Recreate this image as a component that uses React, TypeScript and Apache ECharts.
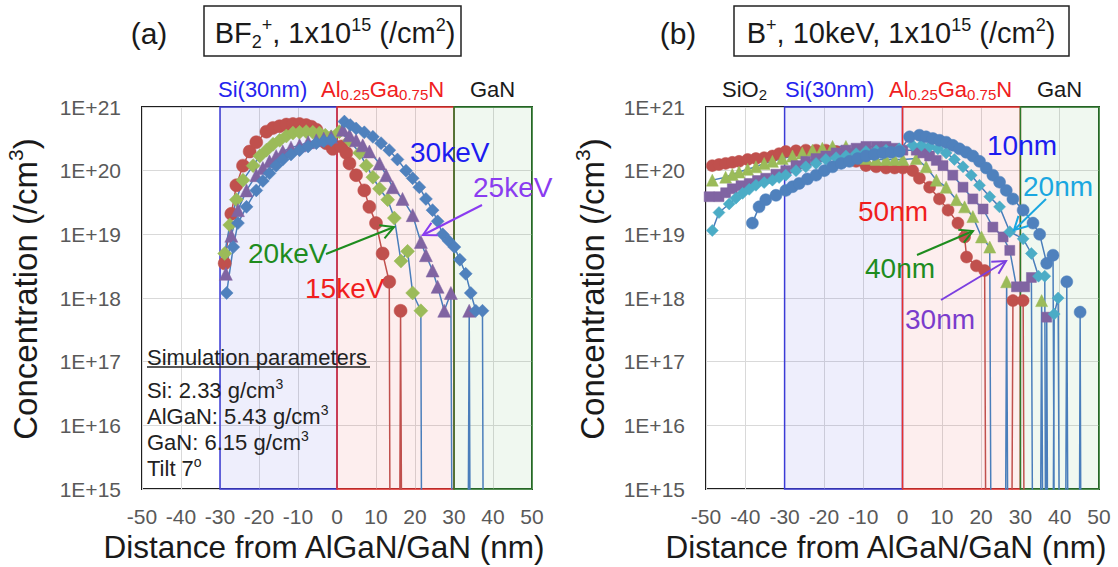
import React, { useEffect, useRef } from "react";
import * as echarts from "echarts";

type Pt = [number, number];

// A value far below the 1E+15 floor: the line drops straight to the bottom edge and is clipped there.
const OFF = 1e10;

const FONT = '"Liberation Sans", Arial, Helvetica, sans-serif';

// ---------- (a) BF2+ implantation, energy series ----------
const keV15: Pt[] = [
  [-28.8, 3.5e18], [-27.1, 2.1e19], [-25.8, 5.9e19], [-24.1, 1.2e20], [-22.4, 2.0e20],
  [-20.7, 2.8e20], [-18.1, 4.1e20], [-16.4, 4.7e20], [-14.7, 5.0e20], [-13.0, 5.3e20],
  [-11.3, 5.4e20], [-9.6, 5.4e20], [-7.9, 5.2e20], [-6.6, 4.9e20], [-5.3, 4.4e20],
  [-4.0, 3.4e20], [-2.8, 2.7e20], [-1.1, 2.2e20], [1.1, 2.4e20], [2.4, 1.9e20],
  [3.2, 1.3e20], [4.9, 8.5e19], [7.0, 4.9e19], [8.3, 2.7e19], [10.0, 1.5e19],
  [11.7, 5.0e18], [13.4, 1.8e18], [13.8, OFF], [15.8, OFF], [16.3, 6.3e17], [16.9, OFF],
];
const keV20: Pt[] = [
  [-28.8, 5.0e18], [-27.5, 1.4e19], [-25.8, 3.5e19], [-24.1, 7.1e19], [-21.5, 1.2e20],
  [-19.8, 1.7e20], [-18.1, 2.1e20], [-16.4, 2.6e20], [-14.7, 3.0e20], [-13.0, 3.5e20],
  [-11.3, 3.9e20], [-9.6, 4.0e20], [-7.9, 4.1e20], [-6.2, 4.0e20], [-4.5, 3.9e20],
  [-3.0, 3.6e20], [-1.5, 3.4e20], [0.6, 4.1e20], [3.2, 3.0e20], [5.8, 1.9e20],
  [7.5, 1.2e20], [9.2, 7.9e19], [10.9, 5.2e19], [13.0, 3.5e19], [14.7, 1.8e19],
  [16.4, 3.8e18], [18.1, 5.4e18], [19.4, 1.2e18], [21.5, 6.3e17], [21.9, OFF],
];
const keV25: Pt[] = [
  [-28.5, 2.4e18], [-27.1, 9.5e18], [-25.4, 2.4e19], [-23.2, 4.9e19], [-20.7, 8.5e19],
  [-19.0, 1.1e20], [-17.3, 1.4e20], [-15.6, 1.7e20], [-13.9, 2.0e20], [-11.8, 2.3e20],
  [-9.6, 2.5e20], [-7.4, 2.8e20], [-5.3, 3.0e20], [-3.4, 3.2e20], [-1.5, 3.4e20],
  [1.5, 4.4e20], [3.2, 3.6e20], [4.9, 3.0e20], [6.6, 2.5e20], [8.3, 2.0e20],
  [10.9, 1.3e20], [12.6, 8.5e19], [14.3, 5.5e19], [16.8, 3.6e19], [19.4, 2.0e19],
  [21.5, 7.6e18], [22.8, 4.7e18], [24.5, 2.7e18], [25.8, 1.5e18], [27.5, 6.3e17],
  [29.2, 1.2e18], [29.8, OFF], [33.3, OFF], [33.9, 6.3e17], [34.4, OFF],
];
const keV30: Pt[] = [
  [-28.3, 1.2e18], [-26.6, 6.3e18], [-25.4, 1.5e19], [-23.2, 2.7e19], [-20.7, 4.9e19],
  [-19.0, 6.9e19], [-17.3, 9.1e19], [-15.6, 1.2e20], [-13.9, 1.5e20], [-11.8, 1.8e20],
  [-9.6, 2.1e20], [-7.4, 2.4e20], [-5.3, 2.7e20], [-3.4, 2.9e20], [-1.5, 3.0e20],
  [1.9, 5.9e20], [3.4, 5.2e20], [4.9, 4.6e20], [7.0, 4.0e20], [9.2, 3.4e20],
  [11.3, 2.7e20], [13.4, 2.1e20], [15.5, 1.5e20], [17.7, 1.0e20], [19.4, 7.6e19],
  [21.1, 5.5e19], [22.8, 3.6e19], [24.5, 2.4e19], [25.8, 1.6e19], [27.1, 1.0e19],
  [28.6, 7.9e18], [30.1, 6.3e18], [31.5, 4.0e18], [33.0, 2.4e18], [34.3, 1.2e18],
  [35.6, 6.3e17], [37.3, 6.3e17], [37.7, OFF],
];

// ---------- (b) B+ 10 keV implantation, SiO2 thickness series ----------
const nm10: Pt[] = [
  [-38.2, 1.5e19], [-36.5, 2.7e19], [-34.8, 3.5e19], [-32.2, 4.1e19], [-29.7, 4.9e19],
  [-28.0, 5.6e19], [-26.3, 6.3e19], [-24.2, 7.4e19], [-22.0, 8.5e19], [-19.9, 1.0e20],
  [-17.8, 1.15e20], [-15.6, 1.3e20], [-13.5, 1.4e20], [-11.4, 1.55e20], [-9.3, 1.7e20],
  [-7.2, 1.8e20], [-5.0, 1.9e20], [-2.9, 1.95e20], [-0.8, 2.0e20], [1.8, 3.4e20],
  [4.3, 3.6e20], [6.0, 3.4e20], [7.7, 3.2e20], [9.4, 3.0e20], [11.1, 2.8e20],
  [12.8, 2.5e20], [14.5, 2.2e20], [16.2, 1.95e20], [17.9, 1.7e20], [19.6, 1.4e20],
  [21.3, 1.1e20], [23.0, 8.5e19], [24.7, 6.6e19], [26.4, 4.9e19], [28.1, 3.6e19],
  [30.7, 2.4e19], [33.2, 1.5e19], [34.9, 1.0e19], [36.7, 3.5e18], [38.3, 4.7e18],
  [38.9, OFF], [41.2, OFF], [41.8, 1.8e18], [42.4, OFF], [44.8, OFF], [45.2, 6.0e17], [45.6, OFF],
];
const nm20: Pt[] = [
  [-48.4, 1.15e19], [-46.7, 2.2e19], [-44.1, 3.0e19], [-42.4, 3.7e19], [-40.7, 4.4e19],
  [-39.0, 5.1e19], [-37.3, 5.9e19], [-35.2, 6.5e19], [-33.1, 7.1e19], [-31.4, 7.8e19],
  [-29.7, 8.5e19], [-27.1, 1.0e20], [-24.6, 1.15e20], [-22.0, 1.3e20], [-19.5, 1.5e20],
  [-16.9, 1.6e20], [-14.4, 1.7e20], [-11.8, 1.85e20], [-9.3, 2.0e20], [-6.7, 2.05e20],
  [-4.2, 2.1e20], [-0.8, 2.2e20], [2.6, 2.5e20], [4.8, 2.5e20], [6.9, 2.4e20],
  [9.0, 2.2e20], [11.1, 1.9e20], [13.2, 1.5e20], [15.4, 1.15e20], [17.5, 8.5e19],
  [19.6, 5.9e19], [22.2, 3.9e19], [24.7, 2.7e19], [27.3, 1.1e19], [30.7, 8.5e18],
  [32.8, 5.0e18], [34.6, 2.2e18], [36.2, 2.2e18], [36.6, OFF], [38.0, OFF],
  [38.6, 5.6e17], [39.6, 1.0e18], [40.2, OFF],
];
const nm30: Pt[] = [
  [-49.2, 3.9e19], [-46.7, 3.9e19], [-45.0, 4.5e19], [-43.3, 5.2e19], [-41.1, 5.8e19],
  [-39.0, 6.3e19], [-36.9, 7.0e19], [-34.8, 7.6e19], [-32.2, 8.8e19], [-29.7, 1.0e20],
  [-27.1, 1.2e20], [-24.6, 1.4e20], [-22.0, 1.55e20], [-19.5, 1.7e20], [-16.9, 1.9e20],
  [-14.4, 2.1e20], [-11.8, 2.25e20], [-9.3, 2.4e20], [-6.7, 2.4e20], [-4.2, 2.4e20],
  [-2.0, 2.25e20], [0.1, 2.1e20], [3.5, 2.1e20], [5.2, 1.9e20], [6.9, 1.7e20],
  [8.6, 1.45e20], [10.3, 1.2e20], [12.8, 8.5e19], [15.4, 5.5e19], [17.9, 3.6e19],
  [20.5, 2.5e19], [23.0, 1.3e19], [25.6, 9.1e18], [27.3, 5.6e18], [29.0, 1.5e18],
  [31.1, 1.5e18], [32.8, 2.1e18], [33.4, OFF], [36.2, OFF], [36.7, 5.0e17], [37.2, OFF],
];
const nm40: Pt[] = [
  [-48.4, 7.1e19], [-45.0, 7.9e19], [-43.3, 8.7e19], [-41.6, 9.5e19], [-39.4, 1.05e20],
  [-37.3, 1.15e20], [-35.2, 1.3e20], [-33.1, 1.4e20], [-30.6, 1.55e20], [-28.0, 1.7e20],
  [-25.5, 1.9e20], [-22.9, 2.1e20], [-20.4, 2.25e20], [-17.8, 2.4e20], [-14.4, 2.4e20],
  [-11.8, 1.8e20], [-9.3, 1.55e20], [-6.7, 1.5e20], [-4.2, 1.5e20], [-2.0, 1.5e20],
  [0.1, 1.5e20], [3.5, 1.55e20], [6.0, 1.15e20], [8.6, 7.1e19], [11.1, 5.5e19],
  [13.7, 3.5e19], [15.8, 2.7e19], [17.9, 1.9e19], [20.1, 9.1e18], [22.2, 6.3e18],
  [22.8, OFF], [25.9, OFF], [26.5, 1.8e18], [27.1, OFF], [34.8, OFF], [35.4, 9.1e17], [36.0, OFF],
];
const nm50: Pt[] = [
  [-48.4, 1.2e20], [-46.7, 1.25e20], [-45.0, 1.3e20], [-43.3, 1.35e20], [-41.6, 1.4e20],
  [-39.4, 1.5e20], [-37.3, 1.55e20], [-35.2, 1.6e20], [-33.1, 1.7e20], [-31.4, 1.85e20],
  [-29.7, 2.0e20], [-27.1, 2.05e20], [-24.6, 2.1e20], [-22.0, 2.1e20], [-19.5, 2.1e20],
  [-16.9, 2.0e20], [-14.4, 1.9e20], [-11.8, 1.4e20], [-9.3, 1.2e20], [-6.7, 1.15e20],
  [-4.2, 1.1e20], [-2.0, 1.1e20], [0.1, 1.1e20], [2.6, 1.0e20], [4.3, 7.6e19],
  [6.9, 5.5e19], [9.4, 3.6e19], [11.6, 2.4e19], [14.1, 1.5e19], [15.8, 9.1e18],
  [16.3, 4.4e18], [18.8, 3.2e18], [20.9, 2.7e18], [21.5, OFF], [27.5, OFF],
  [28.1, 9.1e17], [30.7, 9.1e17], [31.2, OFF],
];

const BLUE = "#4F81BD";
const RED = "#C0504D";
const GREEN = "#9BBB59";
const PURPLE = "#8064A2";
const AQUA = "#4BACC6";
const LINE_BLUE = "#4A7EBB";

function curve(name: string, data: Pt[], symbol: string, size: number, color: string, lineColor: string, gi: number) {
  return {
    type: "line",
    name,
    data,
    xAxisIndex: gi,
    yAxisIndex: gi,
    symbol,
    symbolSize: size,
    showSymbol: true,
    showAllSymbol: true,
    clip: true,
    silent: true,
    z: 3,
    itemStyle: { color, borderColor: color, borderWidth: 0.5 },
    lineStyle: { color: lineColor, width: 1.5 },
  };
}

// Si / AlGaN / GaN layer bands behind the profiles
function layers(gi: number) {
  return {
    type: "line",
    data: [],
    xAxisIndex: gi,
    yAxisIndex: gi,
    z: 1,
    silent: true,
    markArea: {
      silent: true,
      data: [
        [{ xAxis: -30, itemStyle: { color: "rgba(90,90,230,0.10)", borderColor: "#3b3bd6", borderWidth: 1.5 } }, { xAxis: 0 }],
        [{ xAxis: 0, itemStyle: { color: "rgba(240,90,90,0.10)", borderColor: "#e8302c", borderWidth: 1.5 } }, { xAxis: 30 }],
        [{ xAxis: 30, itemStyle: { color: "rgba(60,160,60,0.08)", borderColor: "#2a7a2a", borderWidth: 1.5 } }, { xAxis: 50 }],
      ],
    },
  };
}

function richText(x: number, y: number, text: string, base: number, small: number, color: string, align = "left", rotation = 0) {
  return {
    type: "text",
    x,
    y,
    rotation,
    z: 100,
    silent: true,
    style: {
      text,
      align,
      verticalAlign: "middle",
      fill: color,
      font: `${base}px ${FONT}`,
      rich: {
        n: { fontSize: base, fontFamily: FONT, fill: color, lineHeight: Math.round(base * 1.2) },
        sup: { fontSize: small, fontFamily: FONT, fill: color, lineHeight: small, verticalAlign: "top" },
        sub: { fontSize: small, fontFamily: FONT, fill: color, lineHeight: small, verticalAlign: "bottom" },
      },
    },
  };
}

function plain(x: number, y: number, text: string, size: number, color: string, align = "left") {
  return {
    type: "text",
    x,
    y,
    z: 100,
    silent: true,
    style: { text, align, verticalAlign: "middle", fill: color, font: `${size}px ${FONT}` },
  };
}

function arrow(x1: number, y1: number, x2: number, y2: number, color: string) {
  const a = Math.atan2(y2 - y1, x2 - x1);
  const L = 13;
  const W = 7;
  const bx = x2 - L * Math.cos(a);
  const by = y2 - L * Math.sin(a);
  return [
    { type: "line", z: 100, silent: true, shape: { x1, y1, x2, y2 }, style: { stroke: color, lineWidth: 2 } },
    {
      type: "polyline",
      z: 100,
      silent: true,
      shape: {
        points: [
          [bx - W * Math.sin(a), by + W * Math.cos(a)],
          [x2, y2],
          [bx + W * Math.sin(a), by - W * Math.cos(a)],
        ],
      },
      style: { stroke: color, lineWidth: 2, fill: "none" },
    },
  ];
}

const GRIDS = [
  { left: 142, top: 107, width: 390, height: 382 },
  { left: 706, top: 107, width: 393, height: 382 },
];

export default function App() {
  const ref = useRef<HTMLDivElement>(null);

  useEffect(() => {
    if (!ref.current) return;
    const chart = echarts.init(ref.current, undefined, { renderer: "svg" });

    const xAxis = GRIDS.map((_, i) => ({
      type: "value",
      gridIndex: i,
      min: -50,
      max: 50,
      interval: 10,
      axisLine: { show: false },
      axisTick: { show: false },
      axisLabel: { color: "#595959", fontSize: 21, fontFamily: FONT, margin: 17 },
      splitLine: { show: true, lineStyle: { color: "#d9d9d9", width: 1 } },
    }));
    const yAxis = GRIDS.map((_, i) => ({
      type: "log",
      logBase: 10,
      gridIndex: i,
      min: 1e15,
      max: 1e21,
      axisLine: { show: false },
      axisTick: { show: false },
      axisLabel: {
        color: "#595959",
        fontSize: 21,
        fontFamily: FONT,
        margin: 21,
        formatter: (v: number) => "1E+" + Math.round(Math.log10(v)),
      },
      splitLine: { show: true, lineStyle: { color: "#d9d9d9", width: 1 } },
    }));

    const sup = (s: string) => `{sup|${s}}`;
    const sub = (s: string) => `{sub|${s}}`;
    const n = (s: string) => `{n|${s}}`;
    const alGaN = n("Al") + sub("0.25") + n("Ga") + sub("0.75") + n("N");
    const yTitle = n("Concentration (/cm") + sup("3") + n(")");
    const dark = "#1a1a1a";

    const graphics: any[] = [
      // panel tags and condition boxes
      plain(149, 33, "(a)", 30, dark, "center"),
      { type: "rect", z: 99, silent: true, shape: { x: 204, y: 6, width: 257, height: 50 }, style: { fill: "#fff", stroke: "#222", lineWidth: 1.5 } },
      richText(335, 33, n("BF") + sub("2") + sup("+") + n(", 1x10") + sup("15") + n(" (/cm") + sup("2") + n(")"), 29, 18, dark, "center"),
      plain(678, 33, "(b)", 30, dark, "center"),
      { type: "rect", z: 99, silent: true, shape: { x: 734, y: 6, width: 335, height: 50 }, style: { fill: "#fff", stroke: "#222", lineWidth: 1.5 } },
      richText(901, 33, n("B") + sup("+") + n(", 10keV, 1x10") + sup("15") + n(" (/cm") + sup("2") + n(")"), 29, 18, dark, "center"),

      // layer names above each panel
      plain(218, 89, "Si(30nm)", 22, "#2424ee"),
      richText(321, 89, alGaN, 22, 15, "#f02020"),
      plain(470, 89, "GaN", 22, dark),
      richText(722, 89, n("SiO") + sub("2"), 22, 15, dark),
      plain(785, 89, "Si(30nm)", 22, "#2424ee"),
      richText(889, 89, alGaN, 22, 15, "#f02020"),
      plain(1037, 89, "GaN", 22, dark),

      // axis titles
      richText(25, 289, yTitle, 33, 21, dark, "center", Math.PI / 2),
      richText(592, 289, yTitle, 33, 21, dark, "center", Math.PI / 2),
      plain(324, 547, "Distance from AlGaN/GaN (nm)", 31.5, dark, "center"),
      plain(886, 547, "Distance from AlGaN/GaN (nm)", 31.5, dark, "center"),

      // simulation parameters note
      plain(147, 357, "Simulation parameters", 22, "#222"),
      { type: "line", z: 100, silent: true, shape: { x1: 147, y1: 367, x2: 370, y2: 367 }, style: { stroke: "#222", lineWidth: 1.5 } },
      richText(147, 390, n("Si: 2.33 g/cm") + sup("3"), 22, 14, "#222"),
      richText(147, 416, n("AlGaN: 5.43 g/cm") + sup("3"), 22, 14, "#222"),
      richText(147, 442, n("GaN: 6.15 g/cm") + sup("3"), 22, 14, "#222"),
      richText(147, 468, n("Tilt 7") + sup("o"), 22, 14, "#222"),

      // energy labels (a)
      plain(410, 152, "30keV", 28, "#1c1cf0"),
      plain(473, 187, "25keV", 28, "#8a3cf0"),
      plain(248, 253, "20keV", 28, "#1e8c1e"),
      plain(305, 288, "15keV", 28, "#f01e1e"),
      ...arrow(326, 254, 394, 227, "#1e8c1e"),
      ...arrow(482, 205, 423, 235, "#8a3cf0"),

      // SiO2 thickness labels (b)
      plain(987, 145, "10nm", 28, "#1c1cf0"),
      plain(1023, 186, "20nm", 28, "#1aa7e0"),
      plain(858, 211, "50nm", 28, "#f01e1e"),
      plain(865, 268, "40nm", 28, "#1e8c1e"),
      plain(905, 319, "30nm", 28, "#7b3ccc"),
      ...arrow(1046, 199, 1014, 230, "#1aa7e0"),
      ...arrow(917, 255, 973, 231, "#1e8c1e"),
      ...arrow(941, 300, 1006, 261, "#7b3fe0"),
    ];

    chart.setOption({
      animation: false,
      backgroundColor: "#fff",
      textStyle: { fontFamily: FONT },
      grid: GRIDS.map((g) => ({ ...g, show: true, borderColor: "#1e1e1e", borderWidth: 2, backgroundColor: "transparent" })),
      xAxis,
      yAxis,
      series: [
        layers(0),
        curve("15keV", keV15, "circle", 13, RED, RED, 0),
        curve("20keV", keV20, "diamond", 14, GREEN, LINE_BLUE, 0),
        curve("25keV", keV25, "triangle", 13, PURPLE, LINE_BLUE, 0),
        curve("30keV", keV30, "diamond", 13, BLUE, LINE_BLUE, 0),
        layers(1),
        curve("50nm", nm50, "circle", 12, RED, RED, 1),
        curve("40nm", nm40, "triangle", 12, GREEN, LINE_BLUE, 1),
        curve("30nm", nm30, "rect", 10, PURPLE, LINE_BLUE, 1),
        curve("20nm", nm20, "diamond", 12, AQUA, LINE_BLUE, 1),
        curve("10nm", nm10, "circle", 12, BLUE, LINE_BLUE, 1),
      ],
      graphic: graphics,
    });

    return () => chart.dispose();
  }, []);

  return <div ref={ref} style={{ position: "fixed", left: 0, top: 0, width: 1118, height: 567 }} />;
}
